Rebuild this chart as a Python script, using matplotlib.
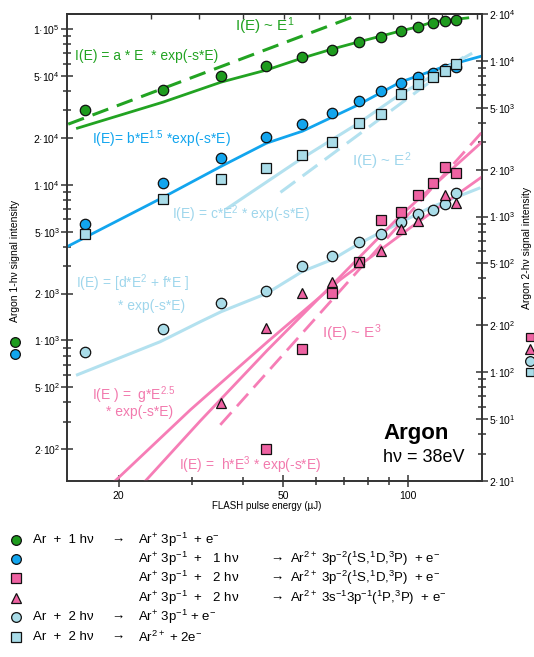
import matplotlib
matplotlib.use("Agg")
import matplotlib.pyplot as plt
from matplotlib.lines import Line2D
from matplotlib.ticker import FixedLocator, LogLocator, NullFormatter, NullLocator

plt.rcParams['font.family'] = ['Liberation Sans', 'DejaVu Sans']
plt.rcParams['mathtext.fontset'] = 'custom'
plt.rcParams['mathtext.rm'] = 'Liberation Sans'
plt.rcParams['mathtext.it'] = 'Liberation Sans:italic'
plt.rcParams['mathtext.bf'] = 'Liberation Sans:bold'

# ---- data ----
energy = [16.6, 25.6, 35.4, 45.5, 55.6, 65.7, 76.0, 86.3, 96.0, 105.5, 115.0, 123.0, 130.5]

# 1-photon signals (left axis)
green_1hv = [30150, 40600, 49900, 57900, 66200, 73400, 82600, 89000, 97300, 103000, 110000, 113000, 114500]
blue_1hv = [5560, 10200, 14800, 20200, 24500, 28800, 34400, 40000, 45000, 49200, 52200, 55400, 57000]

# 2-photon signals (right axis)
lb_square = [768, 1290, 1734, 2040, 2476, 3000, 3980, 4550, 6120, 7100, 7870, 8600, 9550]
lb_circle = [135, 190, 280, 334, 484, 554, 682, 768, 917, 1033, 1096, 1197, 1420]
pink_sq_E = [45.5, 55.6, 65.7, 76.0, 86.3, 96.0, 105.5, 115.0, 123.0, 130.5]
pink_sq = [32.1, 141.6, 325, 507, 944, 1064, 1368, 1634, 2072, 1897]
pink_tri_E = [35.4, 45.5, 55.6, 65.7, 76.0, 86.3, 96.0, 105.5, 123.0, 130.5]
pink_tri = [63.6, 193, 325, 377, 514, 597, 826, 931, 1368, 1216]

# fit curves and power laws
fit_a_E = [15.9, 25.6, 35.4, 45.5, 55.6, 65.7, 76.0, 86.3, 96.0, 105.5, 115.0, 139.5]
fit_a_I = [23100, 33950, 45680, 54560, 65200, 74500, 82700, 90300, 97300, 103300, 111200, 118000]
pow1_E = [15.1, 75.0]
pow1_I = [24500, 122000]
fit_b_E = [15.04, 25.6, 35.4, 45.5, 55.6, 75.6, 96.0, 123.4, 151.0]
fit_b_I = [4013, 8300, 13150, 18490, 22090, 32480, 45680, 57900, 67150]
fit_c_E = [36.6, 55.0, 76.0, 96.0, 120.0, 141.9]
fit_c_R = [1128, 2334, 3980, 6118, 8600, 11070]
pow2_E = [49.2, 136.4]
pow2_R = [1430, 10590]
fit_df_E = [15.9, 25.2, 31.5, 35.4, 45.5, 55.6, 65.7, 75.6, 85.9, 96.0, 113.5, 148.4]
fit_df_R = [96.3, 157, 211, 245, 320, 444, 530, 662, 791, 917, 1146, 1518]
fit_g_E = [19.2, 29.8, 45.8, 68.7, 101.6, 151.7]
fit_g_R = [19, 57.3, 157, 394, 852, 1815]
fit_h_E = [23.0, 31.5, 45.8, 65.0, 96.0, 151.7]
fit_h_R = [19.5, 48.7, 139, 355, 1017, 3048]
pow3_E = [35.2, 151.7]
pow3_R = [45.9, 3534]

left_ticks = [2e2, 5e2, 1e3, 2e3, 5e3, 1e4, 2e4, 5e4, 1e5]
left_labels = ['2·10$^{2}$', '5·10$^{2}$', '1·10$^{3}$', '2·10$^{3}$', '5·10$^{3}$',
               '1·10$^{4}$', '2·10$^{4}$', '5·10$^{4}$', '1·10$^{5}$']
right_ticks = [2e1, 5e1, 1e2, 2e2, 5e2, 1e3, 2e3, 5e3, 1e4, 2e4]
right_labels = ['2·10$^{1}$', '5·10$^{1}$', '1·10$^{2}$', '2·10$^{2}$', '5·10$^{2}$',
                '1·10$^{3}$', '2·10$^{3}$', '5·10$^{3}$', '1·10$^{4}$', '2·10$^{4}$']
x_major = [20, 50, 100]
x_minor = [30, 40, 60, 70, 80, 90]
top_ticks = [24, 31.3, 40, 50.1, 60.8, 70.4, 80.4, 92, 101.8, 112, 121, 131, 147]

# ---- colours ----
GREEN = '#1e9b1e'
GREEN_L = '#22a322'
BLUE = '#12a5ee'
LBLUE = '#a9dce8'
LBLUE_L = '#b3e1ef'
LBLUE_T = '#9fd6ec'
PINK = '#ee62a2'
PINK_L = '#f67db6'
PINK_T = '#f27aae'
SPINE = '#333333'

W, H = 534, 657
def fx(x):
    return x / W
def fy(y):
    return 1 - y / H

fig = plt.figure(figsize=(W / 100, H / 100), dpi=100)
ax = fig.add_axes([fx(67), fy(481), 415 / W, 467 / H])
ax2 = ax.twinx()

ax.set_xscale('log')
ax.set_yscale('log')
ax2.set_yscale('log')
ax.set_xlim(15, 151)
ax.set_ylim(125, 125000)
ax2.set_ylim(20, 20000)

# 1-hv lines and markers
ax.plot(pow1_E, pow1_I, color=GREEN_L, lw=2.2, dashes=(5.5, 3), zorder=2)
ax.plot(fit_a_E, fit_a_I, color=GREEN_L, lw=2.0, zorder=2)
ax.plot(fit_b_E, fit_b_I, color=BLUE, lw=2.0, zorder=2)
ax.plot(energy, green_1hv, 'o', ms=7.5, mfc=GREEN, mec='#111111', mew=0.9, zorder=3)
ax.plot(energy, blue_1hv, 'o', ms=7.5, mfc=BLUE, mec='#111111', mew=0.9, zorder=3)

# 2-hv lines and markers
ax2.plot(fit_df_E, fit_df_R, color=LBLUE_L, lw=2.2, zorder=2)
ax2.plot(fit_c_E, fit_c_R, color=LBLUE_L, lw=2.2, zorder=2)
ax2.plot(pow2_E, pow2_R, color=LBLUE_L, lw=2.2, dashes=(6, 3), zorder=2)
ax2.plot(fit_g_E, fit_g_R, color=PINK_L, lw=2.0, zorder=2)
ax2.plot(fit_h_E, fit_h_R, color=PINK_L, lw=2.0, zorder=2)
ax2.plot(pow3_E, pow3_R, color=PINK_L, lw=2.0, dashes=(6, 3), zorder=2)
ax2.plot(energy, lb_circle, 'o', ms=7.5, mfc=LBLUE, mec='#111111', mew=0.9, zorder=3)
ax2.plot(pink_sq_E, pink_sq, 's', ms=6.5, mfc=PINK, mec='#111111', mew=0.9, zorder=3)
ax2.plot(pink_tri_E, pink_tri, '^', ms=7, mfc=PINK, mec='#111111', mew=0.9, zorder=3)
ax2.plot(energy, lb_square, 's', ms=6.5, mfc=LBLUE, mec='#111111', mew=0.9, zorder=4)

# axes styling
for a in (ax, ax2):
    for sp in a.spines.values():
        sp.set_color(SPINE)
        sp.set_linewidth(1.2)

ax.xaxis.set_major_locator(FixedLocator(x_major))
ax.set_xticklabels(['20', '50', '100'])
ax.xaxis.set_minor_locator(FixedLocator(x_minor))
ax.xaxis.set_minor_formatter(NullFormatter())
ax.tick_params(axis='x', which='major', direction='inout', length=8, width=1.1,
               color=SPINE, labelsize=7.5, pad=3, top=False)
ax.tick_params(axis='x', which='minor', direction='inout', length=5.5, width=1.1,
               color=SPINE, top=False)

ax.yaxis.set_major_locator(FixedLocator(left_ticks))
ax.set_yticklabels(left_labels)
ax.yaxis.set_minor_locator(LogLocator(base=10, subs=(2, 3, 4, 5, 6, 7, 8, 9)))
ax.yaxis.set_minor_formatter(NullFormatter())
ax.tick_params(axis='y', which='major', direction='inout', length=8, width=1.1,
               color=SPINE, labelsize=7.5, pad=1)
ax.tick_params(axis='y', which='minor', direction='inout', length=5.5, width=1.1, color=SPINE)

ax2.yaxis.set_major_locator(FixedLocator(right_ticks))
ax2.set_yticklabels(right_labels)
ax2.yaxis.set_minor_locator(LogLocator(base=10, subs=(2, 3, 4, 5, 6, 7, 8, 9)))
ax2.yaxis.set_minor_formatter(NullFormatter())
ax2.tick_params(axis='y', which='major', direction='inout', length=8, width=1.1,
                color=SPINE, labelsize=7.5, pad=1)
ax2.tick_params(axis='y', which='minor', direction='inout', length=5.5, width=1.1, color=SPINE)

top = ax.secondary_xaxis('top')
top.xaxis.set_major_locator(FixedLocator(top_ticks))
top.xaxis.set_minor_locator(NullLocator())
top.set_xticklabels([])
top.tick_params(direction='in', length=3.5, width=1.0, color=SPINE)
top.spines['top'].set_color(SPINE)
top.spines['top'].set_linewidth(1.2)

# axis labels
fig.text(fx(267), fy(506), 'FLASH pulse energy (µJ)', ha='center', va='center', fontsize=7)
fig.text(fx(15), fy(261), 'Argon 1-hν signal intensity', rotation=90,
         ha='center', va='center', fontsize=7.5)
fig.text(fx(527), fy(248), 'Argon 2-hν signal intensity', rotation=90,
         ha='center', va='center', fontsize=7.5)

def fig_marker(x, y, marker, face, size):
    fig.add_artist(Line2D([fx(x)], [fy(y)], marker=marker, ms=size, mfc=face,
                          mec='#111111', mew=0.9, transform=fig.transFigure,
                          clip_on=False))

fig_marker(15, 342, 'o', GREEN, 7)
fig_marker(15, 354, 'o', BLUE, 7)
fig_marker(530, 337, 's', PINK, 6)
fig_marker(530, 349, '^', PINK, 6.5)
fig_marker(530, 361, 'o', LBLUE, 7)
fig_marker(530, 372, 's', LBLUE, 6)

# annotations inside the plot
def note(x, y, s, color, size=10, **kw):
    fig.text(fx(x), fy(y), s, color=color, fontsize=size, ha='left', va='center', **kw)

note(235, 26, 'I(E) ~ E$^{1}$', GREEN_L, 11)
note(75, 56, 'I(E) = a * E  * exp(-s*E)', GREEN_L)
note(92, 139, 'I(E)= b*E$^{1.5}$ *exp(-s*E)', BLUE)
note(352, 161, 'I(E) ~ E$^{2}$', LBLUE_T, 11)
note(172, 214, 'I(E) = c*E$^{2}$ * exp(-s*E)', LBLUE_T)
note(76, 283, 'I(E) = [d*E$^{2}$ + f*E ]', LBLUE_T)
note(118, 306, '* exp(-s*E)', LBLUE_T)
note(322, 333, 'I(E) ~ E$^{3}$', PINK_T, 11)
note(92, 395, 'I(E ) =  g*E$^{2.5}$', PINK_T)
note(106, 412, '* exp(-s*E)', PINK_T)
note(179, 465, 'I(E) =  h*E$^{3}$ * exp(-s*E)', PINK_T)
note(383, 433, 'Argon', 'black', 16, fontweight='bold')
note(383, 458, 'hν = 38eV', 'black', 13)

# reaction legend below the plot
rows_y = [540, 559, 578, 598, 617, 637]
leg_markers = [('o', GREEN), ('o', BLUE), ('s', PINK), ('^', PINK), ('o', LBLUE), ('s', LBLUE)]
for yy, (m, c) in zip(rows_y, leg_markers):
    fig_marker(16, yy, m, c, 7 if m == 'o' else 6.5)

def leg(x, y, s):
    fig.text(fx(x), fy(y), s, fontsize=9.5, ha='left', va='center')

leg(33, rows_y[0], 'Ar  +  1 hν')
leg(111, rows_y[0], '→')
leg(138, rows_y[0], 'Ar$^{+}$ 3p$^{-1}$  + e$^{-}$')
for yy, n, prod in [(rows_y[1], '1', 'Ar$^{2+}$ 3p$^{-2}$($^{1}$S,$^{1}$D,$^{3}$P)  + e$^{-}$'),
                    (rows_y[2], '2', 'Ar$^{2+}$ 3p$^{-2}$($^{1}$S,$^{1}$D,$^{3}$P)  + e$^{-}$'),
                    (rows_y[3], '2', 'Ar$^{2+}$ 3s$^{-1}$3p$^{-1}$($^{1}$P,$^{3}$P)  + e$^{-}$')]:
    leg(138, yy, 'Ar$^{+}$ 3p$^{-1}$  +   ' + n + ' hν')
    leg(270, yy, '→')
    leg(290, yy, prod)
leg(33, rows_y[4], 'Ar  +  2 hν')
leg(111, rows_y[4], '→')
leg(138, rows_y[4], 'Ar$^{+}$ 3p$^{-1}$ + e$^{-}$')
leg(33, rows_y[5], 'Ar  +  2 hν')
leg(111, rows_y[5], '→')
leg(138, rows_y[5], 'Ar$^{2+}$ + 2e$^{-}$')

fig.savefig('out.png', dpi=100)
